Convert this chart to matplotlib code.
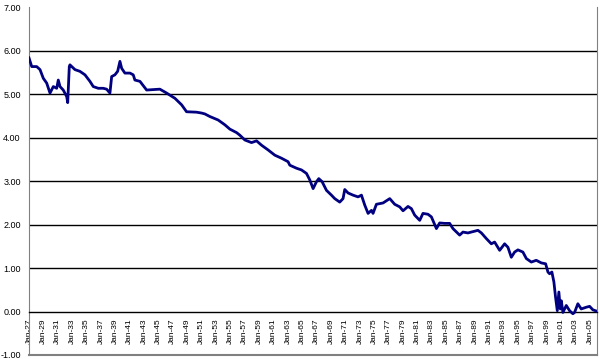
import matplotlib
matplotlib.use("Agg")
import matplotlib.pyplot as plt

# Data (decimal year, value)
years = [1927.00, 1927.38, 1928.07, 1928.53, 1928.99, 1929.46, 1929.92, 1930.38, 1930.85, 1931.07,
         1931.31, 1931.76, 1932.24, 1932.38, 1932.60, 1932.69, 1933.39, 1934.08, 1934.78, 1935.47,
         1935.93, 1936.63, 1937.32, 1937.79, 1938.25, 1938.49, 1938.94, 1939.32, 1939.64, 1939.88,
         1940.33, 1941.03, 1941.49, 1941.72, 1942.42, 1943.35, 1945.19, 1946.13, 1947.28, 1948.21,
         1948.90, 1950.29, 1950.99, 1951.44, 1952.14, 1953.29, 1954.22, 1954.92, 1955.85, 1956.31,
         1957.00, 1957.93, 1958.63, 1959.32, 1960.24, 1961.17, 1962.10, 1963.01, 1963.25, 1964.18,
         1964.88, 1965.57, 1966.03, 1966.49, 1966.96, 1967.28, 1967.74, 1968.35, 1969.04, 1969.50,
         1970.19, 1970.65, 1970.89, 1971.35, 1972.04, 1972.74, 1973.21, 1973.67, 1974.13, 1974.60,
         1974.82, 1975.29, 1976.21, 1977.14, 1977.83, 1978.53, 1978.99, 1979.68, 1980.15, 1980.61,
         1981.31, 1981.76, 1982.46, 1982.93, 1983.63, 1984.08, 1984.78, 1985.47, 1985.93, 1986.86,
         1987.32, 1988.01, 1988.49, 1989.40, 1989.88, 1990.57, 1991.26, 1991.72, 1992.42, 1993.11,
         1993.57, 1994.04, 1994.50, 1994.96, 1995.65, 1996.13, 1996.82, 1997.51, 1998.21, 1998.81,
         1999.13, 1999.36, 1999.68, 1999.96, 2000.19, 2000.43, 2000.65, 2000.85, 2000.99, 2001.21,
         2001.68, 2002.14, 2002.60, 2002.83, 2003.29, 2003.76, 2004.46, 2004.92, 2005.38, 2005.89]
values = [5.84, 5.64, 5.64, 5.57, 5.37, 5.26, 5.03, 5.18, 5.14, 5.33,
          5.18, 5.10, 4.95, 4.81, 5.64, 5.68, 5.57, 5.53, 5.45, 5.30,
          5.18, 5.14, 5.14, 5.12, 5.03, 5.41, 5.45, 5.53, 5.76, 5.60,
          5.49, 5.49, 5.45, 5.33, 5.30, 5.10, 5.12, 5.03, 4.91, 4.76,
          4.60, 4.59, 4.57, 4.55, 4.49, 4.41, 4.30, 4.20, 4.12, 4.06,
          3.95, 3.89, 3.93, 3.83, 3.72, 3.60, 3.53, 3.45, 3.37, 3.30,
          3.26, 3.18, 3.03, 2.83, 2.99, 3.06, 2.99, 2.79, 2.68, 2.60,
          2.52, 2.60, 2.81, 2.73, 2.68, 2.64, 2.68, 2.45, 2.26, 2.33,
          2.26, 2.47, 2.50, 2.60, 2.47, 2.41, 2.32, 2.42, 2.37, 2.22,
          2.10, 2.26, 2.24, 2.18, 1.91, 2.04, 2.03, 2.03, 1.91, 1.76,
          1.83, 1.81, 1.83, 1.87, 1.81, 1.68, 1.56, 1.60, 1.41, 1.56,
          1.48, 1.25, 1.37, 1.42, 1.37, 1.22, 1.14, 1.18, 1.12, 1.10,
          0.91, 0.87, 0.91, 0.68, 0.33, 0.02, 0.45, 0.06, 0.25, -0.02,
          0.14, 0.02, -0.05, -0.02, 0.18, 0.06, 0.10, 0.12, 0.04, 0.01]

tick_years = list(range(1927, 2006, 2))
tick_labels = ["Jan-%02d" % (y % 100) for y in tick_years]
y_ticks = [-1, 0, 1, 2, 3, 4, 5, 6, 7]
y_labels = ["%.2f" % v for v in y_ticks]

plt.rcParams['font.family'] = ['Liberation Sans', 'DejaVu Sans']

fig = plt.figure(figsize=(6.0, 3.59), dpi=100)
ax = fig.add_axes([29/600, 1-355/359, (597-29)/600, (355-7.5)/359])

# axis line at zero (set before ticks, since it resets them)
ax.spines['bottom'].set_position(('data', 0))
ax.spines['bottom'].set_color('black')
ax.spines['bottom'].set_linewidth(1.0)
ax.spines['top'].set_visible(False)
ax.spines['left'].set_color('#808080')
ax.spines['right'].set_color('#808080')

ax.plot(years, values, color='#000080', lw=2.0, solid_joinstyle='round', zorder=3)

ax.set_xlim(1927, 2005.95)
ax.set_ylim(-1, 7)
ax.set_yticks(y_ticks)
ax.set_yticklabels(y_labels, fontsize=6.5)
ax.set_xticks(tick_years)
ax.set_xticklabels(tick_labels, fontsize=6)
ax.tick_params(axis='y', length=0, pad=6)
ax.tick_params(axis='x', length=0, pad=5, labelrotation=90)
for lbl in ax.get_xticklabels():
    lbl.set_va('top')
    lbl.set_ha('center')

ax.yaxis.grid(True, color='black', lw=1.0)
for i, gl in enumerate(ax.get_ygridlines()):
    if y_ticks[i] in (-1, 7, 0):
        gl.set_visible(False)
ax.set_axisbelow(True)

ax.axhline(-1, color='#808080', lw=1.5, clip_on=False)

fig.savefig('out.png', dpi=100)
